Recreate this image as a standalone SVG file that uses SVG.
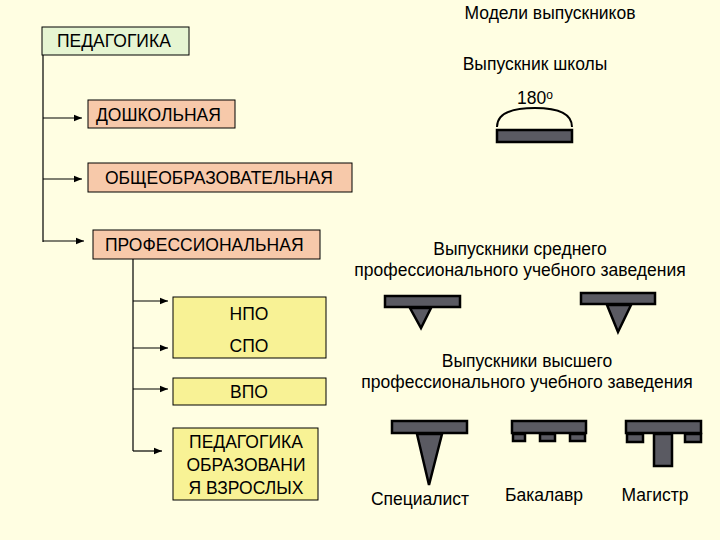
<svg xmlns="http://www.w3.org/2000/svg" width="720" height="540" viewBox="0 0 720 540">
<defs>
<marker id="ah" viewBox="0 0 10 10" refX="10" refY="5" markerWidth="8" markerHeight="8" markerUnits="userSpaceOnUse" orient="auto"><path d="M0,1 L10,5 L0,9 z" fill="#000"/></marker>
<style>
text{font-family:"Liberation Sans",Arial,sans-serif;font-size:17.5px;fill:#000}
.c{text-anchor:middle}
.g{fill:#e6f5d2;stroke:#000;stroke-width:1}
.s{fill:#f7c9aa;stroke:#000;stroke-width:1}
.y{fill:#f8f295;stroke:#000;stroke-width:1}
.ln{stroke:#000;stroke-width:1.2;fill:none}
.ic{fill:#5a5a62;stroke:#000;stroke-width:2.5}
</style>
</defs>
<rect width="720" height="540" fill="#fffee2"/>
<g id="connectors">
<path class="ln" d="M43,55 V242 M133,259 V451"/>
<path class="ln" marker-end="url(#ah)" d="M43,118 H82"/>
<path class="ln" marker-end="url(#ah)" d="M43,179 H82"/>
<path class="ln" marker-end="url(#ah)" d="M43,241 H84"/>
<path class="ln" marker-end="url(#ah)" d="M133,301 H168"/>
<path class="ln" marker-end="url(#ah)" d="M133,348 H168"/>
<path class="ln" marker-end="url(#ah)" d="M133,389 H168"/>
<path class="ln" marker-end="url(#ah)" d="M133,451 H162"/>
</g>
<g id="ped"><rect class="g" x="42" y="27" width="147" height="28"/><text x="57" y="47">ПЕДАГОГИКА</text></g>
<g id="dosh"><rect class="s" x="88" y="100" width="147" height="28"/><text x="96" y="121">ДОШКОЛЬНАЯ</text></g>
<g id="obsh"><rect class="s" x="88" y="163" width="264" height="29"/><text x="105" y="184">ОБЩЕОБРАЗОВАТЕЛЬНАЯ</text></g>
<g id="prof"><rect class="s" x="93" y="230" width="227" height="29"/><text x="105" y="251">ПРОФЕССИОНАЛЬНАЯ</text></g>
<g id="npo"><rect class="y" x="173" y="297" width="153" height="61"/><text class="c" x="249" y="320">НПО</text><text class="c" x="249" y="352">СПО</text></g>
<g id="vpo"><rect class="y" x="173" y="378" width="153" height="27"/><text class="c" x="249" y="398">ВПО</text></g>
<g id="pov"><rect class="y" x="173" y="428" width="145" height="72"/><text class="c" x="246" y="448">ПЕДАГОГИКА</text><text class="c" x="246" y="471">ОБРАЗОВАНИ</text><text class="c" x="246" y="494">Я ВЗРОСЛЫХ</text></g>
<g id="models">
<text class="c" x="550" y="19">Модели выпускников</text>
<text class="c" x="535" y="70">Выпускник школы</text>
<text x="517" y="104">180<tspan font-size="12" dy="-5">о</tspan></text>
<path d="M497,127 Q497,108 535,108 Q572,108 572,127" fill="none" stroke="#000" stroke-width="2"/>
<rect class="ic" x="497" y="130" width="75" height="12"/>
<text class="c" x="520" y="255">Выпускники среднего</text>
<text class="c" x="520" y="276">профессионального учебного заведения</text>
<rect class="ic" x="385" y="296" width="75" height="11"/>
<path class="ic" d="M410,308 L431,308 L421,328 z"/>
<rect class="ic" x="581" y="293" width="74" height="11"/>
<path class="ic" d="M607,305 L631,305 L618,332 z"/>
<text class="c" x="527" y="367">Выпускники высшего</text>
<text class="c" x="527" y="388">профессионального учебного заведения</text>
<rect class="ic" x="392" y="421" width="75" height="12"/>
<path class="ic" d="M417,434 L442,434 L429,485 z"/>
<text class="c" x="420" y="505">Специалист</text>
<rect class="ic" x="512" y="421" width="74" height="12"/>
<rect class="ic" x="513" y="434" width="12" height="7"/>
<rect class="ic" x="540" y="434" width="15" height="7"/>
<rect class="ic" x="570" y="434" width="15" height="7"/>
<text class="c" x="544" y="501">Бакалавр</text>
<rect class="ic" x="626" y="421" width="75" height="12"/>
<rect class="ic" x="627" y="434" width="16" height="8"/>
<rect class="ic" x="685" y="434" width="16" height="8"/>
<rect class="ic" x="654" y="434" width="18" height="32"/>
<text class="c" x="655" y="501">Магистр</text>
</g>
</svg>
